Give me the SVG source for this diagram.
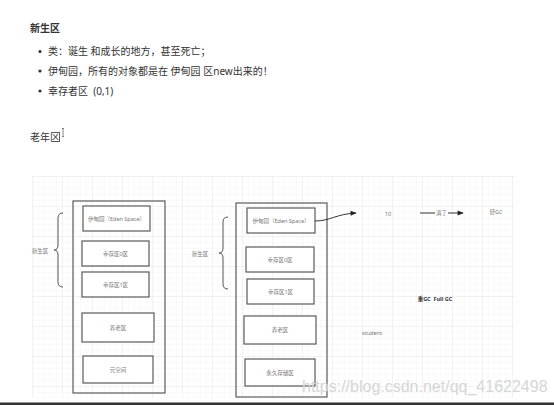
<svg xmlns="http://www.w3.org/2000/svg" width="554" height="405" viewBox="0 0 554 405">
<defs>
<style>
.t{font-family:"Noto Sans","Noto Sans CJK SC",sans-serif;fill:#333;font-size:10px}
.s{font-family:"Noto Sans","Noto Sans CJK SC",sans-serif;fill:#777;font-size:5.5px;text-anchor:middle}
.box{fill:#fff;stroke:#5a5a5a;stroke-width:1.2}
.outer{fill:none;stroke:#5a5a5a;stroke-width:1.2}
.brace{fill:none;stroke:#555;stroke-width:1}
.con{fill:none;stroke:#333;stroke-width:1}
</style>
<pattern id="minor" x="32" y="176" width="6" height="6" patternUnits="userSpaceOnUse">
<path d="M0,0 H6 M0,0 V6" stroke="#f2f2f2" stroke-width="0.8" fill="none"/>
</pattern>
<pattern id="major" x="32" y="176" width="30" height="30" patternUnits="userSpaceOnUse">
<path d="M0,0 H30 M0,0 V30" stroke="#e6e6e6" stroke-width="0.8" fill="none"/>
</pattern>
<marker id="ah" viewBox="0 0 10 10" refX="9" refY="5" markerWidth="9" markerHeight="6" orient="auto" markerUnits="userSpaceOnUse">
<path d="M0,1 L10,5 L0,9 z" fill="#222"/>
</marker>
</defs>
<rect width="554" height="405" fill="#fff"/>
<g id="notes">
<text class="t" x="30" y="32" font-weight="bold">新生区</text>
<circle cx="40" cy="51.5" r="1.6" fill="#333"/>
<text class="t" x="48" y="55">类：诞生 和成长的地方，甚至死亡；</text>
<circle cx="40" cy="71" r="1.6" fill="#333"/>
<text class="t" x="48" y="74.5">伊甸园，所有的对象都是在 伊甸园 区new出来的！</text>
<circle cx="40" cy="91" r="1.6" fill="#333"/>
<text class="t" x="48" y="94.5" xml:space="preserve">幸存者区  (0,1)</text>
<text class="t" x="30" y="140.5">老年区</text>
<path d="M59.5,132 V142" stroke="#333" stroke-width="0.8"/>
<path d="M62,128.5 H64 M63,128.5 V136.5 M62,136.5 H64" stroke="#555" stroke-width="0.7" fill="none"/>
</g>
<g id="canvas">
<rect x="32" y="176" width="483" height="222" fill="url(#minor)"/>
<rect x="32" y="176" width="483" height="222" fill="url(#major)"/>
</g>
<g id="left-heap">
<rect class="outer" x="73" y="201" width="92" height="192"/>
<path class="brace" d="M63,213 Q58,213 58,218 L58,245 Q58,250 54,250 Q58,250 58,255 L58,282 Q58,287 63,287"/>
<text class="s" x="40" y="253">新生区</text>
<g id="l-eden"><rect class="box" x="83" y="206" width="67" height="25"/><text class="s" x="116.5" y="220.5">伊甸园（Eden Space）</text></g>
<g id="l-s0"><rect class="box" x="82" y="241" width="67" height="25"/><text class="s" x="115.5" y="255.5">幸存区0区</text></g>
<g id="l-s1"><rect class="box" x="82" y="272" width="67" height="25"/><text class="s" x="115.5" y="286.5">幸存区1区</text></g>
<g id="l-old"><rect class="box" x="82" y="313" width="72" height="29"/><text class="s" x="118" y="329.5">养老区</text></g>
<g id="l-meta"><rect class="box" x="83" y="356" width="70" height="27"/><text class="s" x="118" y="371.5">元空间</text></g>
</g>
<g id="right-heap">
<rect class="outer" x="236" y="203" width="91" height="194"/>
<path class="brace" d="M228,217 Q223,217 223,222 L223,248 Q223,253 219,253 Q223,253 223,258 L223,284 Q223,289 228,289"/>
<text class="s" x="200" y="256">新生区</text>
<g id="r-eden"><rect class="box" x="247" y="208" width="68" height="25"/><text class="s" x="281" y="222.5">伊甸园（Eden Space）</text></g>
<g id="r-s0"><rect class="box" x="246" y="247" width="68" height="25"/><text class="s" x="280" y="261.5">幸存区0区</text></g>
<g id="r-s1"><rect class="box" x="247" y="279" width="67" height="25"/><text class="s" x="280.5" y="293.5">幸存区1区</text></g>
<g id="r-old"><rect class="box" x="244" y="316" width="72" height="28"/><text class="s" x="280" y="332">养老区</text></g>
<g id="r-perm"><rect class="box" x="245" y="359" width="70" height="27"/><text class="s" x="280" y="374.5">永久存储区</text></g>
</g>
<g id="labels">
<text class="s" x="388" y="215.5">10</text>
<text class="s" x="496" y="214">轻GC</text>
<text class="s" x="435" y="301" font-weight="bold" style="fill:#333" xml:space="preserve">重GC  Full GC</text>
<text class="s" x="372" y="335">student</text>
</g>
<g id="connectors">
<path class="con" d="M315,221 C330,221 336,214 356,213" marker-end="url(#ah)"/>
<path class="con" d="M420,213 H463" marker-end="url(#ah)"/>
<rect x="435" y="209" width="13" height="7" fill="#fff"/>
<text class="s" x="441.5" y="215">满了</text>
</g>
<text x="302" y="392" font-family="Liberation Sans, Arial, sans-serif" font-size="16" fill="#d6d6d6">https://blog.csdn.net/qq_41622498</text>
<rect x="0" y="402.5" width="554" height="2.5" fill="#333"/>
</svg>
